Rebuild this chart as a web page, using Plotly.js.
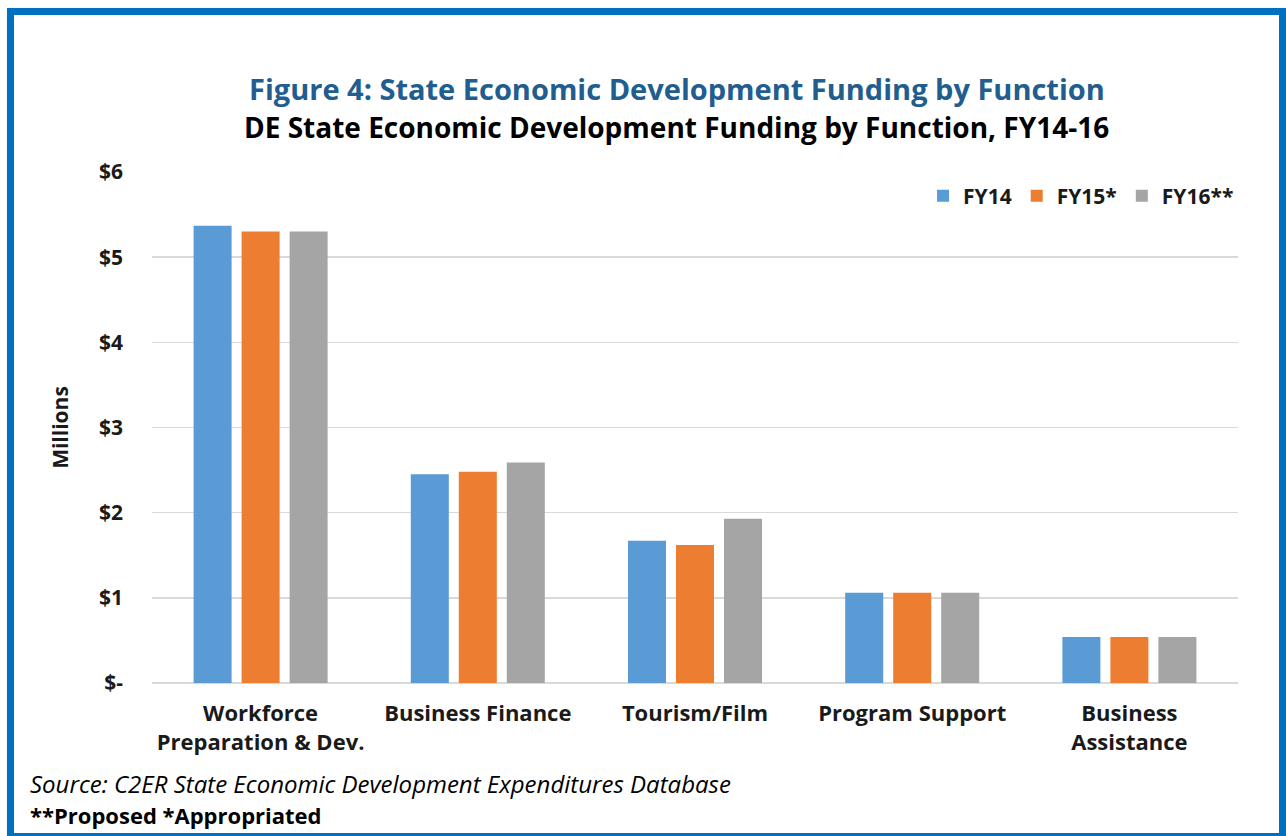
<!DOCTYPE html>
<html>
<head>
<meta charset="utf-8">
<script src="https://cdn.plot.ly/plotly-3.0.1.min.js"></script>
<style>
html,body{margin:0;padding:0;background:#fff;}
#chart{width:1286px;height:836px;}
#frame{position:absolute;left:7px;top:8px;width:1265px;height:818px;border:7px solid #0070c0;border-bottom-width:4px;border-right-width:7px;pointer-events:none;box-shadow:1px 1px 2px #888;}
</style>
</head>
<body>
<div id="chart"></div>
<div id="frame"></div>
<script>
const categories = ["Workforce<br>Preparation & Dev.", "Business Finance", "Tourism/Film", "Program Support", "Business<br>Assistance"];
const seriesNames = ["FY14", "FY15*", "FY16**"];
const fy14 = [5.37, 2.45, 1.67, 1.06, 0.54];
const fy15 = [5.30, 2.48, 1.62, 1.06, 0.54];
const fy16 = [5.30, 2.59, 1.93, 1.06, 0.54];
const colors = ["#5b9bd5", "#ed7d31", "#a5a5a5"];
const tickVals = [0, 1, 2, 3, 4, 5, 6];
const tickText = ["$-", "$1", "$2", "$3", "$4", "$5", "$6"];

const fam = "'Open Sans', 'Noto Sans', sans-serif";
const traces = [fy14, fy15, fy16].map((v, i) => ({
  type: "bar",
  name: seriesNames[i],
  x: categories,
  y: v,
  marker: {color: colors[i]},
  hoverinfo: "skip"
}));

const layout = {
  width: 1286, height: 836,
  margin: {l: 152, r: 48, t: 172, b: 153},
  paper_bgcolor: "rgba(0,0,0,0)",
  plot_bgcolor: "rgba(0,0,0,0)",
  barmode: "group",
  bargap: 0.337,
  bargroupgap: 0.208,
  showlegend: true,
  legend: {
    orientation: "h",
    x: 0.71, y: 0.953, xanchor: "left", yanchor: "middle",
    font: {family: fam, size: 21, color: "#1a1a1a", weight: "bold"},
    itemwidth: 30, traceorder: "normal"
  },
  xaxis: {
    type: "category",
    tickfont: {family: fam, size: 22, color: "#1a1a1a", weight: "bold"},
    ticks: "", showline: false, showgrid: false,
    ticklabelstandoff: 15
  },
  yaxis: {
    range: [0, 6],
    tickvals: tickVals, ticktext: tickText,
    tickfont: {family: fam, size: 21, color: "#1a1a1a", weight: "bold"},
    gridcolor: "#d9d9d9", gridwidth: 1.5,
    zeroline: true, zerolinecolor: "#d9d9d9", zerolinewidth: 1.5,
    showline: false, ticks: "",
    ticklabelstandoff: 28,
    title: {text: "Millions", font: {family: fam, size: 21, color: "#1a1a1a", weight: "bold"}, standoff: 24}
  },
  annotations: [
    {text: "Figure 4: State Economic Development Funding by Function", xref: "paper", yref: "paper",
     x: 0.483, y: (683 - 88) / 511, xanchor: "center", yanchor: "middle", showarrow: false,
     font: {family: fam, size: 29, color: "#215d8f", weight: "bold"}},
    {text: "DE State Economic Development Funding by Function, FY14-16", xref: "paper", yref: "paper",
     x: 0.483, y: (683 - 127) / 511, xanchor: "center", yanchor: "middle", showarrow: false,
     font: {family: fam, size: 28, color: "#000", weight: "bold"}},
    {text: "<i>Source: C2ER State Economic Development Expenditures Database</i>", xref: "paper", yref: "paper",
     x: (28 - 152) / 1086, y: (683 - 783) / 511, xanchor: "left", yanchor: "middle", showarrow: false,
     font: {family: fam, size: 24, color: "#000"}},
    {text: "<b>**Proposed *Appropriated</b>", xref: "paper", yref: "paper",
     x: (28 - 152) / 1086, y: (683 - 815) / 511, xanchor: "left", yanchor: "middle", showarrow: false,
     font: {family: fam, size: 22, color: "#000"}}
  ]
};

Plotly.newPlot("chart", traces, layout, {displayModeBar: false, staticPlot: true});
</script>
</body>
</html>
